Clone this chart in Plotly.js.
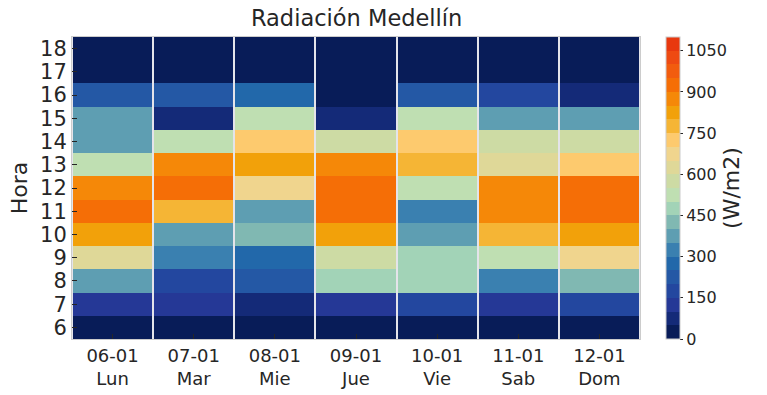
<!DOCTYPE html>
<html>
<head>
<meta charset="utf-8">
<script src="https://cdn.plot.ly/plotly-3.0.1.min.js"></script>
<style>html,body{margin:0;padding:0;background:#fff;}#chart{width:767px;height:395px;}</style>
</head>
<body>
<div id="chart"></div>
<script>
// Days (columns) and their labels
const dates = ["06-01", "07-01", "08-01", "09-01", "10-01", "11-01", "12-01"];
const days = ["Lun", "Mar", "Mie", "Jue", "Vie", "Sab", "Dom"];
// Hours (rows)
const hours = [6, 7, 8, 9, 10, 11, 12, 13, 14, 15, 16, 17, 18];
// Radiation W/m2 per day, listed for hours 6..18
const lun = [20, 120, 380, 620, 820, 920, 870, 520, 370, 370, 220, 20, 20];
const mar = [20, 120, 170, 320, 370, 770, 920, 870, 520, 70, 220, 20, 20];
const mie = [20, 70, 220, 270, 420, 370, 670, 820, 720, 520, 270, 20, 20];
const jue = [20, 120, 470, 570, 820, 920, 920, 870, 570, 70, 20, 20, 20];
const vie = [20, 170, 470, 470, 370, 320, 520, 770, 720, 520, 220, 20, 20];
const sab = [20, 120, 320, 520, 770, 870, 870, 620, 570, 370, 170, 20, 20];
const dom = [20, 170, 420, 670, 820, 920, 920, 720, 570, 370, 70, 20, 20];
// Colorbar ticks
const cbTicks = [0, 150, 300, 450, 600, 750, 900, 1050];
// Discrete palette, 22 bands of 50 W/m2 from 0 to 1100
const bandColors = ["#081c58", "#142a78", "#253896", "#23479f", "#2458a5", "#2268aa",
  "#3a80b0", "#5e9eb2", "#80b8b2", "#a2d3b7", "#bfdfb2", "#cddba4", "#dfd898",
  "#f0d58e", "#fdca6e", "#f5b535", "#f2a10a", "#f58808", "#f56e06", "#f25c0e",
  "#ee4a12", "#e8380f"];

const cols = [lun, mar, mie, jue, vie, sab, dom];
const z = hours.map((h, r) => cols.map(c => c[r]));
const xIdx = dates.map((d, i) => i);
const xText = dates.map((d, i) => d + "<br>" + days[i]);
const n = bandColors.length;
const colorscale = [];
bandColors.forEach((c, i) => { colorscale.push([i / n, c]); colorscale.push([(i + 1) / n, c]); });

const FONT = "DejaVu Sans, sans-serif";
const INK = "#262626";
const trace = {
  type: "heatmap",
  x: xIdx, y: hours, z: z,
  zmin: 0, zmax: 1100,
  colorscale: colorscale,
  xgap: 2,
  hoverongaps: false,
  colorbar: {
    x: 1.046, xanchor: "left", xref: "paper", xpad: 0, ypad: 0,
    y: 0.5, yanchor: "middle", len: 1, lenmode: "fraction",
    thickness: 14, thicknessmode: "pixels",
    outlinecolor: "#cccccc", outlinewidth: 1,
    tickvals: cbTicks, ticks: "outside", ticklen: 3, tickcolor: INK,
    tickfont: {family: FONT, size: 16, color: INK},
    title: {text: "(W/m2)", side: "right", font: {family: FONT, size: 22, color: INK}}
  }
};

const layout = {
  width: 767, height: 395,
  margin: {l: 72, r: 127, t: 37, b: 56, autoexpand: false},
  paper_bgcolor: "#ffffff",
  plot_bgcolor: "#e4e4ea",
  title: {text: "Radiación Medellín", x: 0.465, xanchor: "center", y: 0.975, yanchor: "top",
          font: {family: FONT, size: 22.5, color: INK}},
  xaxis: {
    tickvals: xIdx, ticktext: xText,
    range: [-0.5, 6.5],
    ticks: "inside", ticklen: 5, tickcolor: INK,
    showgrid: false, zeroline: false,
    showline: true, mirror: true, linecolor: "#cccccc", linewidth: 1,
    tickfont: {family: FONT, size: 18, color: INK}
  },
  yaxis: {
    tickvals: hours,
    range: [5.5, 18.5],
    ticks: "inside", ticklen: 5, tickcolor: INK,
    showgrid: false, zeroline: false,
    showline: true, mirror: true, linecolor: "#cccccc", linewidth: 1,
    tickfont: {family: FONT, size: 21, color: INK},
    title: {text: "Hora", standoff: 6, font: {family: FONT, size: 22, color: INK}}
  }
};

Plotly.newPlot("chart", [trace], layout, {displayModeBar: false, staticPlot: true});
</script>
</body>
</html>
